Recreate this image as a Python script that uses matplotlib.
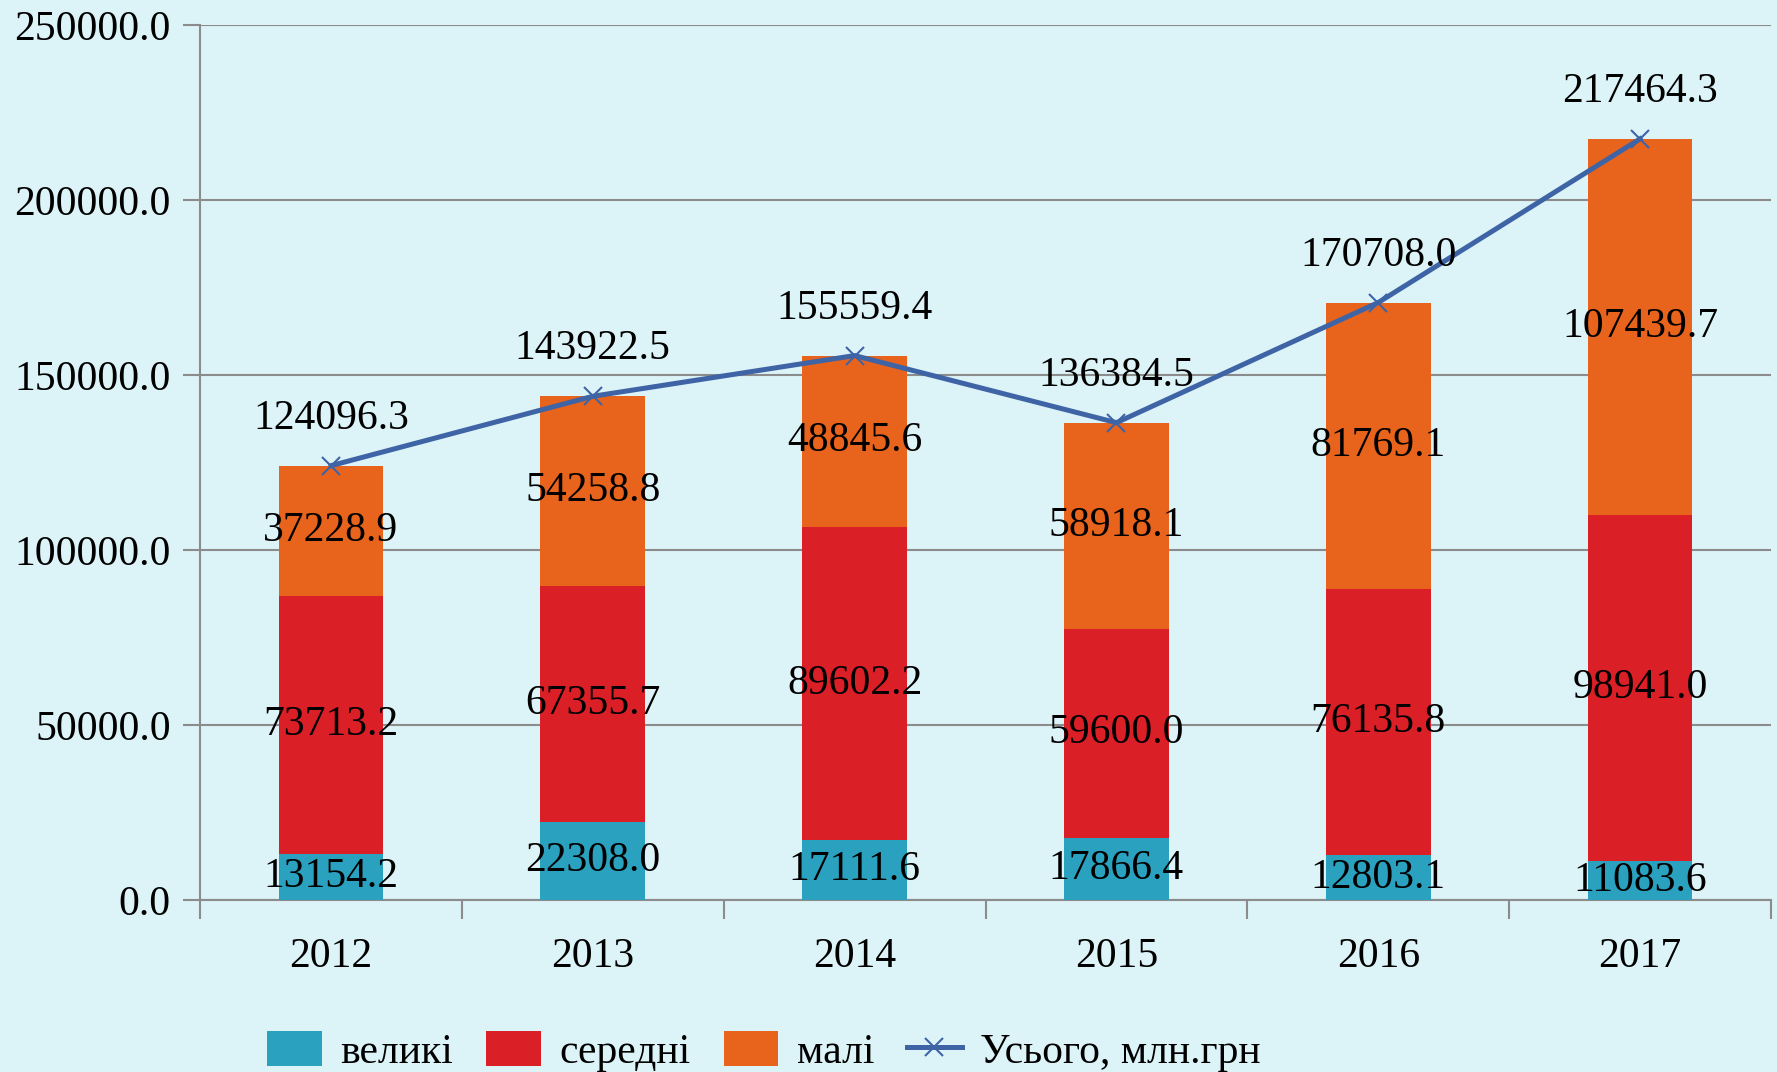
import matplotlib
matplotlib.use('Agg')
import matplotlib.pyplot as plt
import numpy as np

# Дані
years = ['2012', '2013', '2014', '2015', '2016', '2017']
velyki = [13154.2, 22308.0, 17111.6, 17866.4, 12803.1, 11083.6]
seredni = [73713.2, 67355.7, 89602.2, 59600.0, 76135.8, 98941.0]
mali = [37228.9, 54258.8, 48845.6, 58918.1, 81769.1, 107439.7]
total = [124096.3, 143922.5, 155559.4, 136384.5, 170708.0, 217464.3]

BG = '#DCF3F8'
C_VEL = '#2AA2BF'
C_SER = '#DA1F27'
C_MAL = '#E8631C'
C_LINE = '#3E64A6'
GRID = '#8C8C8C'

plt.rcParams['font.family'] = ['Liberation Serif', 'DejaVu Serif']
FS = 30

fig = plt.figure(figsize=(17.77, 10.72), dpi=100, facecolor=BG)
ax = fig.add_axes([0.1126, 0.1604, 0.8840, 0.8163])
ax.set_facecolor(BG)

x = np.arange(len(years))
w = 0.4
bottom2 = np.array(velyki)
bottom3 = bottom2 + np.array(seredni)

b1 = ax.bar(x, velyki, w, color=C_VEL, label='великі', zorder=3)
b2 = ax.bar(x, seredni, w, bottom=bottom2, color=C_SER, label='середні', zorder=3)
b3 = ax.bar(x, mali, w, bottom=bottom3, color=C_MAL, label='малі', zorder=3)
ln, = ax.plot(x, total, color=C_LINE, linewidth=3.6, marker='x', markersize=13,
              markeredgewidth=1.5, label='Усього, млн.грн', zorder=4)

# Підписи значень у сегментах
for i in range(len(years)):
    ax.text(x[i], velyki[i] / 2, f'{velyki[i]:.1f}', ha='center', va='center',
            fontsize=FS, zorder=5)
    ax.text(x[i], bottom2[i] + seredni[i] / 2, f'{seredni[i]:.1f}', ha='center',
            va='center', fontsize=FS, zorder=5)
    ax.text(x[i], bottom3[i] + mali[i] / 2, f'{mali[i]:.1f}', ha='center',
            va='center', fontsize=FS, zorder=5)
    ax.annotate(f'{total[i]:.1f}', (x[i], total[i]), xytext=(0, 34),
                textcoords='offset points', ha='center', va='center',
                fontsize=FS, zorder=5)

ax.set_xlim(-0.5, len(years) - 0.5)
ax.set_ylim(0, 250000)
ax.set_yticks(np.arange(0, 250001, 50000))
ax.set_yticklabels([f'{v:.1f}' for v in np.arange(0, 250001, 50000)])
ax.set_xticks(x)
ax.set_xticklabels(years)
ax.set_xticks(np.arange(-0.5, len(years), 1.0), minor=True)

ax.tick_params(axis='y', labelsize=FS, length=12, width=1.5, color=GRID, pad=9)
ax.tick_params(axis='x', which='major', labelsize=FS, length=0, pad=27)
ax.tick_params(axis='x', which='minor', length=14, width=1.5, color=GRID)

ax.grid(axis='y', color=GRID, linewidth=1.5, zorder=0)
for s in ['top', 'right']:
    ax.spines[s].set_visible(False)
for s in ['left', 'bottom']:
    ax.spines[s].set_color(GRID)
    ax.spines[s].set_linewidth(1.5)

fig.legend(handles=[b1, b2, b3, ln], loc='center', bbox_to_anchor=(0.43, 0.019),
           ncol=4, frameon=False, fontsize=FS, handlelength=1.3, handleheight=0.9,
           handletextpad=0.45, columnspacing=0.8)

fig.savefig('out.png', dpi=100, facecolor=BG)
